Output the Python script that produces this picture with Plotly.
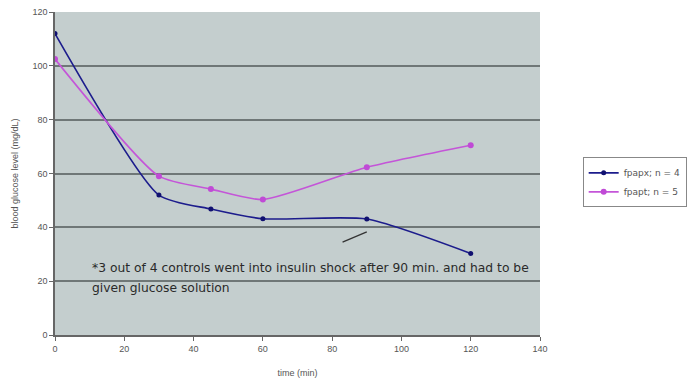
import plotly.graph_objects as go

time_min = [0, 30, 45, 60, 90, 120]
series_a = [112, 52, 46.8, 43.2, 43.1, 30.3]
series_b = [102.5, 59, 54.2, 50.3, 62.3, 70.5]
series_names = ["fpapx; n = 4", "fpapt; n = 5"]
note_lines = ["*3 out of 4 controls went into insulin shock after 90 min. and had to be",
              "given glucose solution"]
note_y = [24.8, 17.6]
pointer_x = [83, 90]
pointer_y = [34.5, 38.3]

FONT = "Liberation Sans, Arial, sans-serif"
WIDE = "DejaVu Sans, sans-serif"

fig = go.Figure()
fig.add_trace(go.Scatter(
    x=time_min, y=series_a, name=series_names[0], mode="lines+markers",
    line=dict(color="#1c1c8c", width=1.6, shape="spline", smoothing=0.6),
    marker=dict(color="#101070", size=5, symbol="circle"),
))
fig.add_trace(go.Scatter(
    x=time_min, y=series_b, name=series_names[1], mode="lines+markers",
    line=dict(color="#c455d8", width=1.6, shape="spline", smoothing=0.6),
    marker=dict(color="#c04ad6", size=6, symbol="circle"),
))

fig.add_shape(type="line", xref="x", yref="y",
              x0=pointer_x[0], y0=pointer_y[0], x1=pointer_x[1], y1=pointer_y[1],
              line=dict(color="#333333", width=1.3))

for txt, yy in zip(note_lines, note_y):
    fig.add_annotation(x=10, y=yy, xref="x", yref="y", text=txt,
                       showarrow=False, xanchor="left", yanchor="middle", align="left",
                       font=dict(family=WIDE, size=12.3, color="#2a2a2a"))

fig.update_layout(
    width=691, height=381,
    margin=dict(l=55, r=151, t=12, b=46, autoexpand=False),
    paper_bgcolor="white",
    plot_bgcolor="#c4cece",
    font=dict(family=FONT, size=9, color="#555555"),
    showlegend=True,
    legend=dict(x=1.088, y=0.55, xanchor="left", yanchor="top",
                bgcolor="white", bordercolor="#888888", borderwidth=1,
                font=dict(family=WIDE, size=9, color="#555555"),
                tracegroupgap=0, itemwidth=30),
    xaxis=dict(range=[0, 140], tickmode="array", tickvals=[0, 20, 40, 60, 80, 100, 120, 140],
               showgrid=False, zeroline=False, showline=True, linecolor="#666666", linewidth=1.5,
               ticks="outside", ticklen=4, tickcolor="#666666", automargin=False,
               title=dict(text="time (min)", font=dict(size=9, color="#555555"), standoff=17)),
    yaxis=dict(range=[0, 120], tickmode="array", tickvals=[0, 20, 40, 60, 80, 100, 120],
               showgrid=True, gridcolor="#6f7777", gridwidth=1.5, zeroline=False,
               showline=True, linecolor="#666666", linewidth=1.5,
               ticks="outside", ticklen=4, tickcolor="#666666", automargin=False,
               title=dict(text="blood glucose level (mg/dL)", font=dict(size=9, color="#555555"), standoff=12)),
)

fig.write_html("out.html")
